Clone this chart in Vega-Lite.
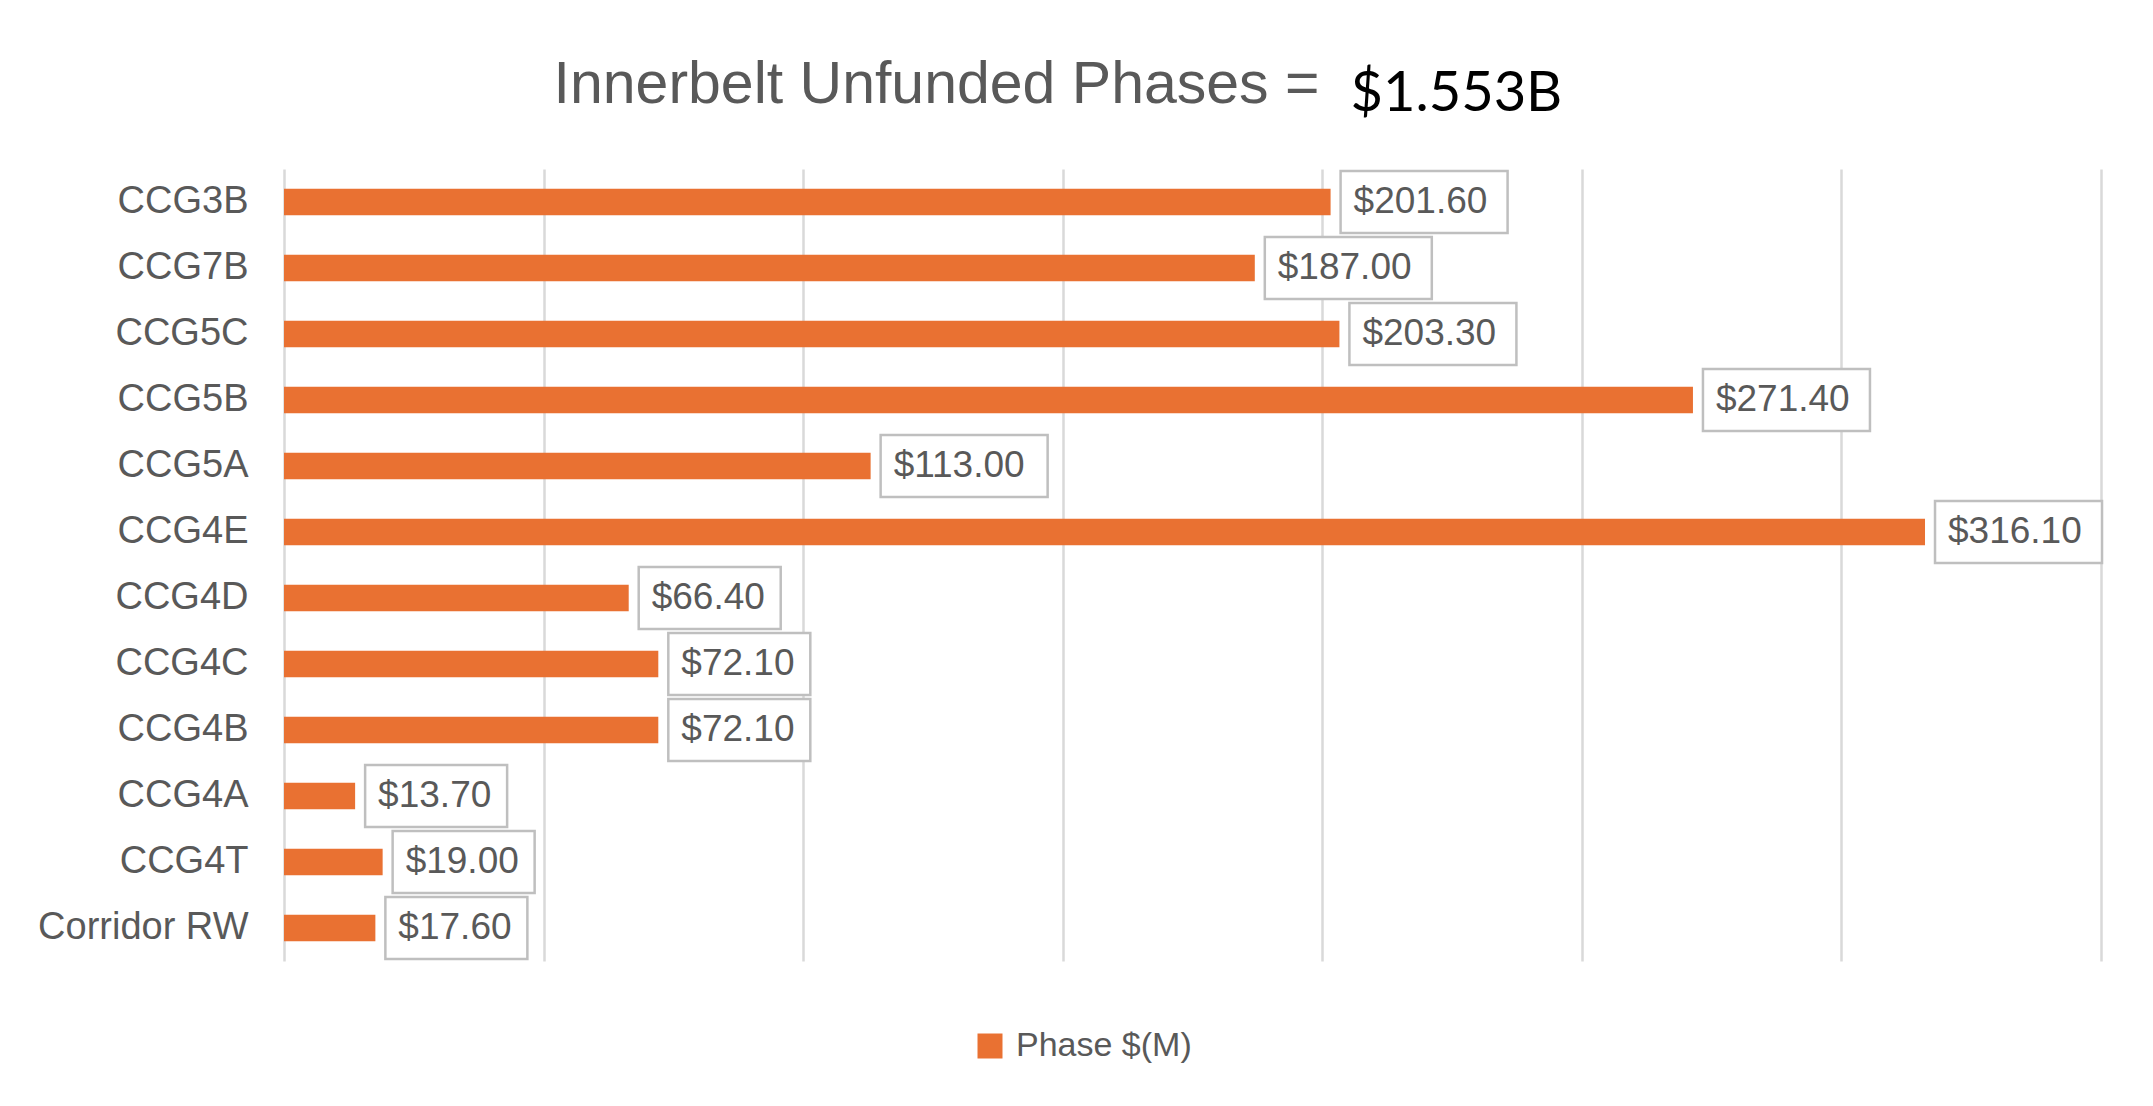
{
  "$schema": "https://vega.github.io/schema/vega-lite/v6.json",
  "width": 1817,
  "height": 792,
  "autosize": {"type": "none"},
  "padding": {"left": 284, "top": 169, "right": 52, "bottom": 145},
  "background": "white",
  "config": {"view": {"stroke": null}},
  "data": {
    "values": [
      {"phase": "CCG3B", "value": 201.6},
      {"phase": "CCG7B", "value": 187.0},
      {"phase": "CCG5C", "value": 203.3},
      {"phase": "CCG5B", "value": 271.4},
      {"phase": "CCG5A", "value": 113.0},
      {"phase": "CCG4E", "value": 316.1},
      {"phase": "CCG4D", "value": 66.4},
      {"phase": "CCG4C", "value": 72.1},
      {"phase": "CCG4B", "value": 72.1},
      {"phase": "CCG4A", "value": 13.7},
      {"phase": "CCG4T", "value": 19.0},
      {"phase": "Corridor RW", "value": 17.6}
    ]
  },
  "encoding": {
    "y": {
      "field": "phase",
      "type": "nominal",
      "sort": null,
      "scale": {"paddingInner": 0.6, "paddingOuter": 0.3},
      "axis": {
        "domain": false,
        "ticks": false,
        "tickSize": 0,
        "grid": false,
        "labelPadding": 36,
        "labelLimit": 0,
        "labelFont": "Liberation Sans",
        "labelFontSize": 38,
        "labelColor": "#595959",
        "title": "Innerbelt Unfunded Phases =",
        "titleAngle": 0,
        "titleX": 652,
        "titleY": -67,
        "titleAlign": "center",
        "titleBaseline": "alphabetic",
        "titleFont": "Liberation Sans",
        "titleFontSize": 59,
        "titleFontWeight": "normal",
        "titleColor": "#595959"
      }
    }
  },
  "layer": [
    {
      "mark": {"type": "bar", "color": "#E97132"},
      "encoding": {
        "x": {
          "field": "value",
          "type": "quantitative",
          "scale": {"domain": [0, 350], "nice": false},
          "axis": {
            "orient": "top",
            "values": [0, 50, 100, 150, 200, 250, 300, 350],
            "domain": false,
            "ticks": false,
            "labels": false,
            "grid": true,
            "gridColor": "#d9d9d9",
            "gridWidth": 2.5,
            "title": "$1.553B",
            "titleX": 1066,
            "titleY": -59,
            "titleAlign": "left",
            "titleBaseline": "alphabetic",
            "titleAngle": 0,
            "titleFont": "Lato",
            "titleFontSize": 56,
            "titleFontWeight": "normal",
            "titleColor": "#000000"
          }
        },
        "color": {
          "datum": "Phase $(M)",
          "scale": {"range": ["#E97132"]},
          "legend": {
            "orient": "none",
            "legendX": 689,
            "legendY": 860,
            "title": null,
            "symbolType": "square",
            "symbolSize": 625,
            "symbolStrokeWidth": 0,
            "labelLimit": 0,
            "labelFont": "Liberation Sans",
            "labelFontSize": 34,
            "labelColor": "#595959",
            "labelOffset": 9
          }
        }
      }
    },
    {
      "transform": [{"filter": {"field": "value", "lt": 100}}],
      "mark": {"type": "bar", "height": 62, "xOffset": 10, "x2Offset": 152, "fill": "white", "stroke": "#bfbfbf", "strokeWidth": 2.5},
      "encoding": {
        "x": {"field": "value", "type": "quantitative"},
        "x2": {"field": "value"}
      }
    },
    {
      "transform": [{"filter": {"field": "value", "gte": 100}}],
      "mark": {"type": "bar", "height": 62, "xOffset": 10, "x2Offset": 177, "fill": "white", "stroke": "#bfbfbf", "strokeWidth": 2.5},
      "encoding": {
        "x": {"field": "value", "type": "quantitative"},
        "x2": {"field": "value"}
      }
    },
    {
      "mark": {"type": "text", "align": "left", "baseline": "middle", "dx": 23, "font": "Liberation Sans", "fontSize": 37, "color": "#595959"},
      "encoding": {
        "x": {"field": "value", "type": "quantitative"},
        "text": {"field": "value", "type": "quantitative", "format": "$,.2f"}
      }
    }
  ]
}
